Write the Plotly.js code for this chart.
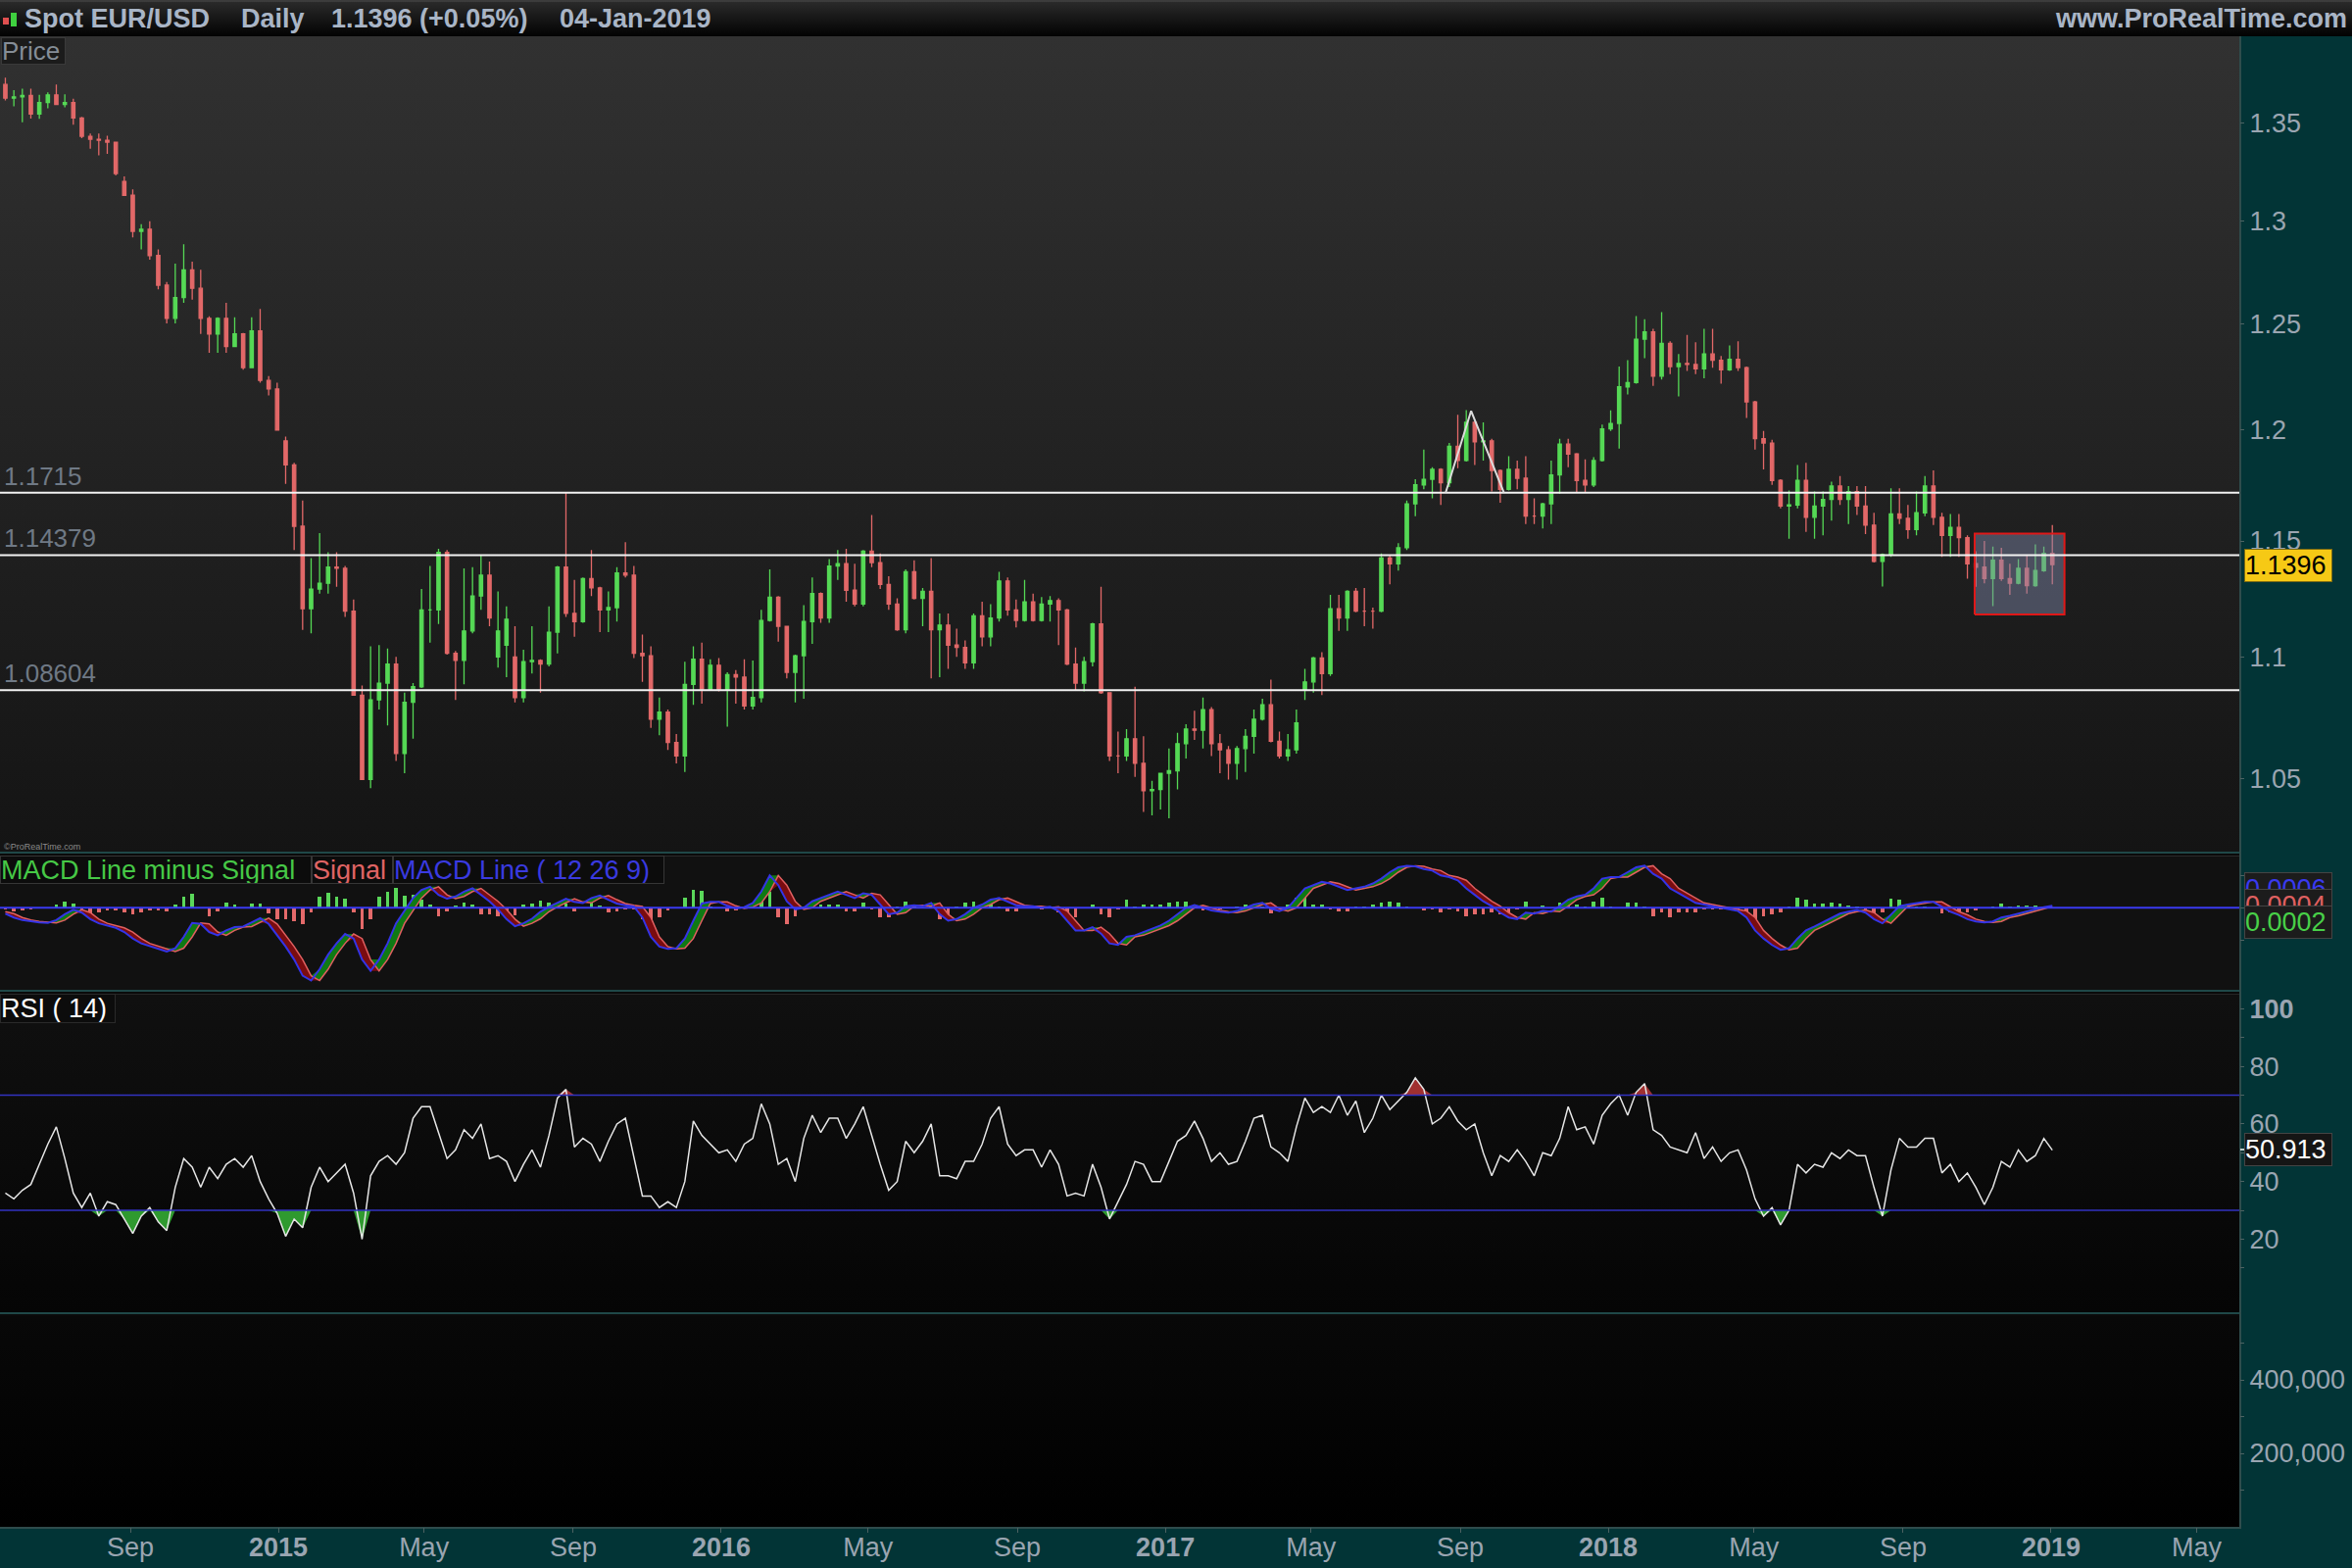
<!DOCTYPE html>
<html><head><meta charset="utf-8">
<script src="https://cdn.plot.ly/plotly-3.0.1.min.js"></script>
<style>
html,body{margin:0;padding:0;background:#000;}
#wrap{position:relative;width:2400px;height:1600px;overflow:hidden;background:#023436;}
.bg{position:absolute;}
#chart{position:absolute;left:0;top:0;width:2400px;height:1600px;}
</style></head><body>
<div id="wrap">
 <div class="bg" style="left:0;top:0;width:2400px;height:37px;background:linear-gradient(#2a2a2a,#020202);border-top:2px solid #3c3c3c;box-sizing:border-box"></div>
 <div class="bg" style="left:0;top:37px;width:2285px;height:833px;background:linear-gradient(#313131,#141414)"></div>
 <div class="bg" style="left:0;top:869px;width:2285px;height:4px;background:#0a0a0a;border-top:2px solid #1f4848;box-sizing:border-box"></div>
 <div class="bg" style="left:0;top:873px;width:2285px;height:137px;background:#111;border-top:1px solid #2a2a2a;box-sizing:border-box"></div>
 <div class="bg" style="left:0;top:1010px;width:2285px;height:4px;background:#0a0a0a;border-top:2px solid #1f4848;box-sizing:border-box"></div>
 <div class="bg" style="left:0;top:1014px;width:2285px;height:325px;background:linear-gradient(#101010,#050505);border-top:1px solid #262626;box-sizing:border-box"></div>
 <div class="bg" style="left:0;top:1339px;width:2285px;height:4px;background:#0a0a0a;border-top:2px solid #1f4848;box-sizing:border-box"></div>
 <div class="bg" style="left:0;top:1343px;width:2285px;height:215px;background:linear-gradient(#080808,#000)"></div>
 <div class="bg" style="left:2285px;top:37px;width:2px;height:1522px;background:#2f4c4c"></div>
 <div class="bg" style="left:0;top:1558px;width:2287px;height:2px;background:#2f4c4c"></div>
 <div id="chart"></div>
</div>
<script>
// ---------- DATA ----------
const weeks = [
'2014-05-21','2014-05-28','2014-06-04','2014-06-11','2014-06-18','2014-06-25','2014-07-02','2014-07-09','2014-07-16','2014-07-23',
'2014-07-30','2014-08-06','2014-08-13','2014-08-20','2014-08-27','2014-09-03','2014-09-10','2014-09-17','2014-09-24','2014-10-01',
'2014-10-08','2014-10-15','2014-10-22','2014-10-29','2014-11-05','2014-11-12','2014-11-19','2014-11-26','2014-12-03','2014-12-10',
'2014-12-17','2014-12-24','2014-12-31','2015-01-07','2015-01-14','2015-01-21','2015-01-28','2015-02-04','2015-02-11','2015-02-18',
'2015-02-25','2015-03-04','2015-03-11','2015-03-18','2015-03-25','2015-04-01','2015-04-08','2015-04-15','2015-04-22','2015-04-29',
'2015-05-06','2015-05-13','2015-05-20','2015-05-27','2015-06-03','2015-06-10','2015-06-17','2015-06-24','2015-07-01','2015-07-08',
'2015-07-15','2015-07-22','2015-07-29','2015-08-05','2015-08-12','2015-08-19','2015-08-26','2015-09-02','2015-09-09','2015-09-16',
'2015-09-23','2015-09-30','2015-10-07','2015-10-14','2015-10-21','2015-10-28','2015-11-04','2015-11-11','2015-11-18','2015-11-25',
'2015-12-02','2015-12-09','2015-12-16','2015-12-23','2015-12-30','2016-01-06','2016-01-13','2016-01-20','2016-01-27','2016-02-03',
'2016-02-10','2016-02-17','2016-02-24','2016-03-02','2016-03-09','2016-03-16','2016-03-23','2016-03-30','2016-04-06','2016-04-13',
'2016-04-20','2016-04-27','2016-05-04','2016-05-11','2016-05-18','2016-05-25','2016-06-01','2016-06-08','2016-06-15','2016-06-22',
'2016-06-29','2016-07-06','2016-07-13','2016-07-20','2016-07-27','2016-08-03','2016-08-10','2016-08-17','2016-08-24','2016-08-31',
'2016-09-07','2016-09-14','2016-09-21','2016-09-28','2016-10-05','2016-10-12','2016-10-19','2016-10-26','2016-11-02','2016-11-09',
'2016-11-16','2016-11-23','2016-11-30','2016-12-07','2016-12-14','2016-12-21','2016-12-28','2017-01-04','2017-01-11','2017-01-18',
'2017-01-25','2017-02-01','2017-02-08','2017-02-15','2017-02-22','2017-03-01','2017-03-08','2017-03-15','2017-03-22','2017-03-29',
'2017-04-05','2017-04-12','2017-04-19','2017-04-26','2017-05-03','2017-05-10','2017-05-17','2017-05-24','2017-05-31','2017-06-07',
'2017-06-14','2017-06-21','2017-06-28','2017-07-05','2017-07-12','2017-07-19','2017-07-26','2017-08-02','2017-08-09','2017-08-16',
'2017-08-23','2017-08-30','2017-09-06','2017-09-13','2017-09-20','2017-09-27','2017-10-04','2017-10-11','2017-10-18','2017-10-25',
'2017-11-01','2017-11-08','2017-11-15','2017-11-22','2017-11-29','2017-12-06','2017-12-13','2017-12-20','2017-12-27','2018-01-03',
'2018-01-10','2018-01-17','2018-01-24','2018-01-31','2018-02-07','2018-02-14','2018-02-21','2018-02-28','2018-03-07','2018-03-14',
'2018-03-21','2018-03-28','2018-04-04','2018-04-11','2018-04-18','2018-04-25','2018-05-02','2018-05-09','2018-05-16','2018-05-23',
'2018-05-30','2018-06-06','2018-06-13','2018-06-20','2018-06-27','2018-07-04','2018-07-11','2018-07-18','2018-07-25','2018-08-01',
'2018-08-08','2018-08-15','2018-08-22','2018-08-29','2018-09-05','2018-09-12','2018-09-19','2018-09-26','2018-10-03','2018-10-10',
'2018-10-17','2018-10-24','2018-10-31','2018-11-07','2018-11-14','2018-11-21','2018-11-28','2018-12-05','2018-12-12','2018-12-19',
'2018-12-26','2019-01-02'];

const open = [
1.3700,1.3628,1.3635,1.3642,1.3545,1.3605,1.3645,1.3595,1.3605,1.3525,
1.3430,1.3415,1.3410,1.3400,1.3200,1.3130,1.2950,1.2960,1.2830,1.2685,
1.2525,1.2625,1.2760,1.2670,1.2525,1.2450,1.2525,1.2390,1.2450,1.2290,
1.2465,1.2230,1.2190,1.1950,1.1840,1.1565,1.1205,1.1290,1.1315,1.1385,
1.1380,1.1195,1.0840,1.0495,1.0820,1.0890,1.0970,1.0600,1.0810,1.0875,
1.1200,1.1200,1.1450,1.1015,1.0985,1.1110,1.1260,1.1350,1.1000,1.1050,
1.1000,1.0830,1.0980,1.0985,1.0970,1.1105,1.1385,1.1185,1.1150,1.1335,
1.1295,1.1200,1.1210,1.1360,1.1350,1.1015,1.1005,1.0740,1.0770,1.0645,
1.0590,1.0885,1.0990,1.0865,1.0965,1.0865,1.0925,1.0915,1.0795,1.0830,
1.1155,1.1255,1.1130,1.0935,1.1005,1.1150,1.1270,1.1165,1.1390,1.1400,
1.1285,1.1225,1.1455,1.1405,1.1310,1.1225,1.1115,1.1365,1.1250,1.1280,
1.1115,1.1135,1.1050,1.1040,1.0975,1.1175,1.1085,1.1165,1.1325,1.1200,
1.1155,1.1235,1.1155,1.1225,1.1240,1.1200,1.0970,1.0890,1.0980,1.1140,
1.0850,1.0590,1.0590,1.0660,1.0560,1.0450,1.0455,1.0520,1.0530,1.0640,
1.0700,1.0695,1.0780,1.0640,1.0615,1.0560,1.0620,1.0670,1.0740,1.0800,
1.0650,1.0590,1.0615,1.0860,1.0895,1.0995,1.0930,1.1205,1.1165,1.1280,
1.1195,1.1195,1.1195,1.1425,1.1400,1.1470,1.1665,1.1750,1.1775,1.1820,
1.1760,1.1925,1.1860,1.2035,1.1945,1.1950,1.1815,1.1730,1.1820,1.1780,
1.1610,1.1610,1.1665,1.1795,1.1935,1.1890,1.1770,1.1750,1.1860,1.2005,
1.2030,1.2200,1.2220,1.2425,1.2460,1.2250,1.2405,1.2295,1.2310,1.2305,
1.2285,1.2355,1.2325,1.2280,1.2330,1.2290,1.2130,1.1960,1.1940,1.1770,
1.1655,1.1660,1.1770,1.1605,1.1655,1.1685,1.1745,1.1685,1.1720,1.1655,
1.1570,1.1410,1.1440,1.1620,1.1600,1.1550,1.1625,1.1745,1.1605,1.1525,
1.1560,1.1515,1.1400,1.1385,1.1335,1.1415,1.1335,1.1315,1.1380,1.1305,
1.1370,1.1445];

const high = [
1.3735,1.3670,1.3677,1.3677,1.3645,1.3658,1.3700,1.3648,1.3625,1.3530,
1.3444,1.3445,1.3433,1.3400,1.3225,1.3160,1.2985,1.3000,1.2860,1.2700,
1.2790,1.2885,1.2800,1.2760,1.2535,1.2530,1.2600,1.2530,1.2455,1.2530,
1.2570,1.2250,1.2220,1.1970,1.1850,1.1680,1.1425,1.1535,1.1450,1.1450,
1.1390,1.1245,1.0880,1.1045,1.1050,1.1035,1.1000,1.0850,1.0890,1.1290,
1.1390,1.1465,1.1460,1.1025,1.1380,1.1385,1.1435,1.1410,1.1280,1.1215,
1.1130,1.1030,1.1130,1.0990,1.1215,1.1390,1.1714,1.1330,1.1340,1.1460,
1.1300,1.1280,1.1385,1.1495,1.1390,1.1095,1.1045,1.0830,1.0780,1.0680,
1.0980,1.1045,1.1060,1.0990,1.0995,1.0935,1.0945,1.0990,1.0985,1.1200,
1.1375,1.1260,1.1130,1.1010,1.1220,1.1340,1.1275,1.1420,1.1460,1.1465,
1.1400,1.1460,1.1615,1.1445,1.1345,1.1250,1.1375,1.1415,1.1295,1.1425,
1.1185,1.1185,1.1120,1.1070,1.1185,1.1235,1.1225,1.1365,1.1340,1.1245,
1.1330,1.1270,1.1255,1.1260,1.1250,1.1205,1.1040,1.1000,1.1145,1.1300,
1.0850,1.0690,1.0700,1.0875,1.0670,1.0490,1.0490,1.0620,1.0685,1.0720,
1.0775,1.0830,1.0790,1.0680,1.0630,1.0630,1.0700,1.0780,1.0825,1.0905,
1.0690,1.0680,1.0780,1.0950,1.1000,1.1020,1.1265,1.1265,1.1285,1.1295,
1.1295,1.1210,1.1445,1.1440,1.1490,1.1680,1.1775,1.1910,1.1830,1.1825,
1.1940,1.2070,1.2092,1.2040,1.2035,1.1960,1.1820,1.1880,1.1860,1.1880,
1.1690,1.1670,1.1860,1.1960,1.1960,1.1895,1.1865,1.1875,1.2025,1.2090,
1.2295,1.2325,1.2536,1.2520,1.2475,1.2555,1.2415,1.2355,1.2445,1.2410,
1.2475,1.2475,1.2345,1.2395,1.2415,1.2295,1.2135,1.1995,1.1955,1.1775,
1.1725,1.1840,1.1850,1.1720,1.1720,1.1765,1.1790,1.1745,1.1745,1.1745,
1.1625,1.1445,1.1735,1.1735,1.1660,1.1720,1.1790,1.1815,1.1625,1.1620,
1.1620,1.1525,1.1455,1.1500,1.1475,1.1470,1.1400,1.1420,1.1440,1.1485,
1.1475,1.1570];

const low = [
1.3616,1.3586,1.3503,1.3522,1.3520,1.3575,1.3593,1.3580,1.3490,1.3420,
1.3366,1.3333,1.3340,1.3230,1.3130,1.2920,1.2860,1.2810,1.2665,1.2500,
1.2500,1.2600,1.2615,1.2450,1.2360,1.2360,1.2360,1.2390,1.2280,1.2290,
1.2220,1.2160,1.2000,1.1755,1.1460,1.1115,1.1100,1.1270,1.1270,1.1300,
1.1170,1.0840,1.0495,1.0460,1.0780,1.0715,1.0570,1.0520,1.0660,1.0870,
1.1060,1.1140,1.1010,1.0820,1.0885,1.1100,1.1200,1.1130,1.0955,1.0915,
1.0810,1.0810,1.0930,1.0850,1.0960,1.1015,1.1170,1.1085,1.1145,1.1260,
1.1105,1.1105,1.1150,1.1340,1.0995,1.0895,1.0705,1.0675,1.0615,1.0560,
1.0525,1.0800,1.0805,1.0860,1.0855,1.0710,1.0805,1.0780,1.0780,1.0810,
1.1150,1.1065,1.0910,1.0810,1.0825,1.1055,1.1145,1.1145,1.1330,1.1235,
1.1215,1.1215,1.1385,1.1290,1.1200,1.1110,1.1100,1.1245,1.1130,1.0910,
1.0915,1.0950,1.1000,1.0950,1.0950,1.1045,1.1045,1.1150,1.1175,1.1125,
1.1150,1.1150,1.1150,1.1150,1.1050,1.0965,1.0860,1.0855,1.0960,1.0845,
1.0570,1.0520,1.0570,1.0505,1.0365,1.0352,1.0375,1.0340,1.0455,1.0580,
1.0655,1.0620,1.0590,1.0520,1.0495,1.0495,1.0525,1.0600,1.0735,1.0645,
1.0580,1.0570,1.0600,1.0820,1.0850,1.0840,1.0920,1.1110,1.1110,1.1190,
1.1130,1.1120,1.1190,1.1310,1.1370,1.1460,1.1610,1.1730,1.1690,1.1660,
1.1740,1.1825,1.1855,1.1840,1.1860,1.1720,1.1670,1.1725,1.1730,1.1575,
1.1575,1.1555,1.1575,1.1710,1.1830,1.1715,1.1715,1.1740,1.1855,1.1995,
1.1915,1.2165,1.2215,1.2335,1.2205,1.2235,1.2260,1.2155,1.2275,1.2260,
1.2240,1.2290,1.2215,1.2275,1.2275,1.2055,1.1910,1.1820,1.1750,1.1645,
1.1510,1.1645,1.1540,1.1510,1.1525,1.1590,1.1660,1.1575,1.1615,1.1530,
1.1405,1.1301,1.1430,1.1575,1.1510,1.1525,1.1610,1.1570,1.1430,1.1430,
1.1430,1.1335,1.1300,1.1315,1.1216,1.1325,1.1265,1.1310,1.1270,1.1300,
1.1365,1.1310];

const close = [
1.3628,1.3635,1.3642,1.3545,1.3605,1.3645,1.3595,1.3605,1.3525,1.3430,
1.3415,1.3410,1.3400,1.3240,1.3130,1.2950,1.2960,1.2830,1.2685,1.2525,
1.2625,1.2760,1.2670,1.2525,1.2450,1.2525,1.2390,1.2450,1.2290,1.2465,
1.2230,1.2190,1.2000,1.1840,1.1565,1.1205,1.1290,1.1315,1.1385,1.1380,
1.1195,1.0840,1.0495,1.0820,1.0890,1.0970,1.0600,1.0810,1.0875,1.1200,
1.1200,1.1450,1.1015,1.0985,1.1110,1.1260,1.1350,1.1165,1.1110,1.1160,
1.0830,1.0980,1.0985,1.0970,1.1105,1.1385,1.1185,1.1150,1.1335,1.1295,
1.1200,1.1210,1.1360,1.1350,1.1015,1.1005,1.0740,1.0770,1.0645,1.0590,
1.0885,1.0990,1.0865,1.0965,1.0865,1.0925,1.0915,1.0795,1.0830,1.1155,
1.1255,1.1130,1.0935,1.1005,1.1150,1.1270,1.1165,1.1390,1.1400,1.1285,
1.1225,1.1455,1.1405,1.1310,1.1225,1.1115,1.1365,1.1250,1.1280,1.1115,
1.1135,1.1050,1.1040,1.0975,1.1175,1.1085,1.1165,1.1325,1.1200,1.1155,
1.1235,1.1155,1.1225,1.1240,1.1200,1.0970,1.0890,1.0980,1.1140,1.0850,
1.0590,1.0590,1.0660,1.0560,1.0450,1.0455,1.0520,1.0530,1.0640,1.0700,
1.0695,1.0780,1.0640,1.0615,1.0560,1.0620,1.0670,1.0740,1.0800,1.0650,
1.0590,1.0615,1.0725,1.0895,1.0995,1.0930,1.1205,1.1165,1.1280,1.1195,
1.1195,1.1195,1.1425,1.1400,1.1470,1.1665,1.1750,1.1775,1.1820,1.1760,
1.1925,1.1860,1.2035,1.1945,1.1950,1.1815,1.1730,1.1820,1.1780,1.1610,
1.1610,1.1665,1.1795,1.1935,1.1890,1.1770,1.1750,1.1860,1.2005,1.2030,
1.2200,1.2220,1.2425,1.2460,1.2250,1.2405,1.2295,1.2310,1.2305,1.2285,
1.2355,1.2325,1.2280,1.2330,1.2290,1.2130,1.1960,1.1940,1.1770,1.1655,
1.1660,1.1770,1.1605,1.1655,1.1685,1.1745,1.1685,1.1720,1.1655,1.1570,
1.1410,1.1440,1.1620,1.1600,1.1550,1.1625,1.1745,1.1605,1.1525,1.1560,
1.1515,1.1400,1.1385,1.1335,1.1415,1.1335,1.1315,1.1380,1.1305,1.1370,
1.1445,1.1396];

const macdLine = [
-0.0018,-0.003,-0.0038,-0.0042,-0.0045,-0.0047,-0.0038,-0.002,-0.0006,-0.0015,
-0.0035,-0.0048,-0.0055,-0.0062,-0.0075,-0.0095,-0.011,-0.0118,-0.0125,-0.0135,
-0.0125,-0.009,-0.0047,-0.005,-0.0075,-0.0085,-0.007,-0.006,-0.0058,-0.0045,
-0.0032,-0.005,-0.0085,-0.012,-0.016,-0.021,-0.0225,-0.019,-0.0145,-0.011,
-0.0081,-0.0095,-0.016,-0.0195,-0.016,-0.011,-0.0048,-0.001,0.003,0.0055,
0.0065,0.004,0.0028,0.0035,0.005,0.006,0.004,0.002,-0.0005,-0.0035,
-0.0057,-0.0048,-0.0034,-0.0012,0.0003,0.0015,0.0028,0.0018,0.0015,0.003,
0.0038,0.0025,0.0013,0.0008,0.0004,-0.003,-0.009,-0.012,-0.0127,-0.0125,
-0.0095,-0.004,0.0013,0.0018,0.0018,0.0006,-0.0002,0.0002,0.0015,0.005,
0.01,0.007,0.002,-0.0005,0.0,0.002,0.003,0.004,0.005,0.004,
0.003,0.0045,0.004,0.001,-0.002,-0.0015,0.0005,0.0008,0.0005,0.0015,
-0.002,-0.004,-0.0035,-0.002,0.0,0.001,0.0025,0.003,0.002,0.0008,
0.0005,0.0005,0.0,0.0003,-0.001,-0.004,-0.007,-0.007,-0.006,-0.008,
-0.011,-0.0115,-0.009,-0.0085,-0.0075,-0.0065,-0.0055,-0.004,-0.002,0.0,
0.0008,0.0,-0.0008,-0.0012,-0.0015,-0.001,0.0,0.001,0.0015,-0.0003,
-0.001,0.0,0.003,0.006,0.007,0.008,0.0075,0.0065,0.0055,0.006,
0.0065,0.0075,0.009,0.011,0.0125,0.013,0.0128,0.012,0.0115,0.01,
0.0095,0.0085,0.006,0.004,0.002,0.0005,-0.0015,-0.003,-0.0035,-0.0015,
-0.0018,-0.001,-0.0012,0.0005,0.0025,0.0035,0.004,0.006,0.009,0.0095,
0.0095,0.011,0.0125,0.013,0.0105,0.009,0.006,0.0045,0.003,0.0015,
0.001,0.0005,0.0,-0.0005,-0.001,-0.003,-0.007,-0.0095,-0.0115,-0.013,
-0.0125,-0.0095,-0.007,-0.0058,-0.0045,-0.003,-0.0018,-0.0012,-0.0007,-0.0015,
-0.0035,-0.0048,-0.002,0.0005,0.001,0.0013,0.0018,0.0018,0.0002,-0.0012,
-0.0022,-0.0035,-0.0042,-0.0045,-0.0042,-0.003,-0.0025,-0.0018,-0.001,-0.0003,
0.0002,0.0006];

const signalLine = [
-0.0012,-0.0018,-0.003,-0.0038,-0.0042,-0.0045,-0.0047,-0.0038,-0.002,-0.0006,
-0.0015,-0.0035,-0.0048,-0.0055,-0.0062,-0.0075,-0.0095,-0.011,-0.0118,-0.0125,
-0.0135,-0.0125,-0.009,-0.0047,-0.005,-0.0075,-0.0085,-0.007,-0.006,-0.0058,
-0.0045,-0.0032,-0.005,-0.0085,-0.012,-0.016,-0.021,-0.0225,-0.019,-0.0145,
-0.011,-0.0081,-0.0095,-0.016,-0.0195,-0.016,-0.011,-0.0048,-0.001,0.003,
0.0055,0.0065,0.004,0.0028,0.0035,0.005,0.006,0.004,0.002,-0.0005,
-0.0035,-0.0057,-0.0048,-0.0034,-0.0012,0.0003,0.0015,0.0028,0.0018,0.0015,
0.003,0.0038,0.0025,0.0013,0.0008,0.0004,-0.003,-0.009,-0.012,-0.0127,
-0.0125,-0.0095,-0.004,0.0013,0.0018,0.0018,0.0006,-0.0002,0.0002,0.0015,
0.005,0.01,0.007,0.002,-0.0005,0.0,0.002,0.003,0.004,0.005,
0.004,0.003,0.0045,0.004,0.001,-0.002,-0.0015,0.0005,0.0008,0.0005,
0.0015,-0.002,-0.004,-0.0035,-0.002,0.0,0.001,0.0025,0.003,0.002,
0.0008,0.0005,0.0005,0.0,0.0003,-0.001,-0.004,-0.007,-0.007,-0.006,
-0.008,-0.011,-0.0115,-0.009,-0.0085,-0.0075,-0.0065,-0.0055,-0.004,-0.002,
0.0,0.0008,0.0,-0.0008,-0.0012,-0.0015,-0.001,0.0,0.001,0.0015,
-0.0003,-0.001,0.0,0.003,0.006,0.007,0.008,0.0075,0.0065,0.0055,
0.006,0.0065,0.0075,0.009,0.011,0.0125,0.013,0.0128,0.012,0.0115,
0.01,0.0095,0.0085,0.006,0.004,0.002,0.0005,-0.0015,-0.003,-0.0035,
-0.0015,-0.0018,-0.001,-0.0012,0.0005,0.0025,0.0035,0.004,0.006,0.009,
0.0095,0.0095,0.011,0.0125,0.013,0.0105,0.009,0.006,0.0045,0.003,
0.0015,0.001,0.0005,0.0,-0.0005,-0.001,-0.003,-0.007,-0.0095,-0.0115,
-0.013,-0.0125,-0.0095,-0.007,-0.0058,-0.0045,-0.003,-0.0018,-0.0012,-0.0007,
-0.0015,-0.0035,-0.0048,-0.002,0.0005,0.001,0.0013,0.0018,0.0018,0.0002,
-0.0012,-0.0022,-0.0035,-0.0042,-0.0045,-0.0042,-0.003,-0.0025,-0.0018,-0.001,
-0.0003,0.0004];

const rsi = [
36,34,37,39,46,53,59,48,36,31,
36,28,33,32,27,22,28,31,26,23,
38,48,45,38,45,41,46,48,45,49,
40,34,29,21,27,24,38,45,40,43,
46,36,20,42,47,49,46,50,62,66,
66,57,48,51,58,55,60,48,49,47,
40,46,51,45,56,69,72,52,55,53,
47,54,60,62,48,35,35,31,33,31,
40,61,56,53,50,51,47,53,55,67,
60,46,48,40,55,63,57,62,62,55,
60,66,56,46,37,40,54,50,54,60,
42,42,41,47,47,53,62,66,53,49,
51,51,45,51,46,35,36,35,46,38,
27,33,39,47,46,40,40,47,54,56,
61,55,47,50,46,47,54,62,63,52,
50,47,59,69,64,66,64,70,63,68,
57,62,70,65,68,71,76,72,60,62,
66,61,58,60,50,42,49,47,51,47,
42,50,49,55,66,58,59,53,63,67,
70,63,71,74,58,56,52,51,50,57,
48,52,47,50,51,44,34,28,31,25,
30,46,43,46,45,50,48,51,49,49,
38,28,44,55,52,52,55,55,43,46,
40,43,38,32,38,47,45,51,47,49,
55,50.913];

const levels = [1.1715, 1.14379, 1.08604];
const levelLabels = ['1.1715', '1.14379', '1.08604'];
const triangleDates = ['2017-08-20', '2017-09-10', '2017-10-07'];
const trianglePrices = [1.1715, 1.2088, 1.1715];
const boxDates = ['2018-10-30', '2019-01-12'];
const boxPrices = [1.1180, 1.1533];

const priceTicks = [1.05, 1.1, 1.15, 1.2, 1.25, 1.3, 1.35];
const priceTickText = ['1.05', '1.1', '1.15', '1.2', '1.25', '1.3', '1.35'];
const xTickDates = ['2014-09-01','2015-01-01','2015-05-01','2015-09-01','2016-01-01','2016-05-01','2016-09-01','2017-01-01','2017-05-01','2017-09-01','2018-01-01','2018-05-01','2018-09-01','2019-01-01','2019-05-01'];
const xTickText = ['Sep','<b>2015</b>','May','Sep','<b>2016</b>','May','Sep','<b>2017</b>','May','Sep','<b>2018</b>','May','Sep','<b>2019</b>','May'];
const rsiTicks = [10,20,30,40,50,60,70,80,90,100];
const rsiTickText = ['','20','','40','','60','','80','','<b>100</b>'];
const volTicks = [100000,200000,300000,400000,500000];
const volTickText = ['','200,000','','400,000',''];

// ---------- BUILD ----------
const FONT = 'Liberation Sans, Arial, sans-serif';
const AX = '#9aa5b1';
const xRange = ['2014-05-16 14:00', '2019-06-05 02:00'];
const PR = 2285/2400;
const px = x => x/2400, py = y => 1 - y/1600;

const hist = macdLine.map((m,i) => m - signalLine[i]);
const histColors = hist.map(h => h >= 0 ? '#5ad85a' : '#e46a6a');
const upper = macdLine.map((m,i) => Math.max(m, signalLine[i]));
const lower = macdLine.map((m,i) => Math.min(m, signalLine[i]));
const rsi30 = rsi.map(() => 30), rsi70 = rsi.map(() => 70);
const rsiLow = rsi.map(v => Math.min(v, 30));
const rsiHigh = rsi.map(v => Math.max(v, 70));

const traces = [];
traces.push({type:'scatter', mode:'lines', xaxis:'x', yaxis:'y',
  x:[boxDates[0], boxDates[1], boxDates[1], boxDates[0], boxDates[0]],
  y:[boxPrices[0], boxPrices[0], boxPrices[1], boxPrices[1], boxPrices[0]],
  fill:'toself', fillcolor:'rgba(128,138,172,0.46)', line:{color:'#e01818', width:2}, hoverinfo:'skip'});
levels.forEach(l => traces.push({type:'scatter', mode:'lines', xaxis:'x', yaxis:'y',
  x:xRange, y:[l,l], line:{color:'#f2f2f2', width:2}, hoverinfo:'skip'}));
traces.push({type:'candlestick', xaxis:'x', yaxis:'y', x:weeks, open:open, high:high, low:low, close:close,
  increasing:{line:{color:'#55d955', width:1.3}, fillcolor:'#55d955'},
  decreasing:{line:{color:'#e26868', width:1.3}, fillcolor:'#e26868'},
  whiskerwidth:0, hoverinfo:'skip'});
traces.push({type:'scatter', mode:'lines', xaxis:'x', yaxis:'y', x:triangleDates, y:trianglePrices,
  line:{color:'#dcdcdc', width:2}, hoverinfo:'skip'});

// MACD
traces.push({type:'bar', xaxis:'x', yaxis:'y2', x:weeks, y:hist, marker:{color:histColors, line:{width:0}},
  width:3*86400000, hoverinfo:'skip'});
traces.push({type:'scatter', mode:'lines', xaxis:'x', yaxis:'y2', x:weeks, y:signalLine, line:{width:0, color:'rgba(0,0,0,0)'}, hoverinfo:'skip'});
traces.push({type:'scatter', mode:'lines', xaxis:'x', yaxis:'y2', x:weeks, y:upper, fill:'tonexty', fillcolor:'#0f7a14', line:{width:0, color:'rgba(0,0,0,0)'}, hoverinfo:'skip'});
traces.push({type:'scatter', mode:'lines', xaxis:'x', yaxis:'y2', x:weeks, y:signalLine, line:{width:0, color:'rgba(0,0,0,0)'}, hoverinfo:'skip'});
traces.push({type:'scatter', mode:'lines', xaxis:'x', yaxis:'y2', x:weeks, y:lower, fill:'tonexty', fillcolor:'#7a0c10', line:{width:0, color:'rgba(0,0,0,0)'}, hoverinfo:'skip'});
traces.push({type:'scatter', mode:'lines', xaxis:'x', yaxis:'y2', x:weeks, y:signalLine, line:{color:'#e06060', width:1.5}, hoverinfo:'skip'});
traces.push({type:'scatter', mode:'lines', xaxis:'x', yaxis:'y2', x:weeks, y:macdLine, line:{color:'#3434e6', width:2}, hoverinfo:'skip'});

// RSI
traces.push({type:'scatter', mode:'lines', xaxis:'x', yaxis:'y3', x:weeks, y:rsi30, line:{width:0, color:'rgba(0,0,0,0)'}, hoverinfo:'skip'});
traces.push({type:'scatter', mode:'lines', xaxis:'x', yaxis:'y3', x:weeks, y:rsiLow, fill:'tonexty', fillcolor:'#2f9a2f', line:{width:0, color:'rgba(0,0,0,0)'}, hoverinfo:'skip'});
traces.push({type:'scatter', mode:'lines', xaxis:'x', yaxis:'y3', x:weeks, y:rsi70, line:{width:0, color:'rgba(0,0,0,0)'}, hoverinfo:'skip'});
traces.push({type:'scatter', mode:'lines', xaxis:'x', yaxis:'y3', x:weeks, y:rsiHigh, fill:'tonexty', fillcolor:'#a03030', line:{width:0, color:'rgba(0,0,0,0)'}, hoverinfo:'skip'});
traces.push({type:'scatter', mode:'lines', xaxis:'x', yaxis:'y3', x:weeks, y:rsi, line:{color:'#e6e6e6', width:1.5}, hoverinfo:'skip'});

// empty volume panel (no volume data for spot FX) - keeps the axis drawn
traces.push({type:'scatter', mode:'lines', xaxis:'x', yaxis:'y4', x:[], y:[], hoverinfo:'skip'});

const tickFont = {family:FONT, size:27, color:AX};
const yCommon = {side:'right', anchor:'x', showgrid:false, zeroline:false, showline:false,
  ticks:'outside', ticklen:4, tickcolor:'#4d6262', tickfont:tickFont, fixedrange:true};

const annotations = [];
function ann(text, x, y, o) {
  annotations.push(Object.assign({text, x:px(x), y:py(y), xref:'paper', yref:'paper', showarrow:false,
    xanchor:'left', yanchor:'middle', font:{family:FONT, size:27, color:AX}}, o || {}));
}
const HDR = {family:FONT, size:27, color:'#a9b5c6'};
ann('<b>Spot EUR/USD</b>', 23, 19, {font:HDR});
ann('<b>Daily</b>', 244, 19, {font:HDR});
ann('<b>1.1396 (+0.05%)</b>', 336, 19, {font:HDR});
ann('<b>04-Jan-2019</b>', 569, 19, {font:HDR});
ann('<b>www.ProRealTime.com</b>', 2397, 19, {font:HDR, xanchor:'right'});
ann('Price', 1, 52, {font:{family:FONT, size:26, color:'#858d97'}, bgcolor:'#1b1b1b', bordercolor:'#3a3a3a', borderwidth:1, borderpad:0, width:64, height:26, align:'left'});
levels.forEach((l,i) => annotations.push({text:levelLabels[i], xref:'paper', yref:'y', x:px(2), y:Math.log10(l),
  xanchor:'left', yanchor:'bottom', showarrow:false, font:{family:FONT, size:26, color:'#6f7985'}}));
ann('©ProRealTime.com', 2, 864, {font:{family:FONT, size:9, color:'#8a8a8a'}});
const lgBox = {bgcolor:'#0c0c0c', bordercolor:'#363636', borderwidth:1, borderpad:0, height:27, align:'left'};
ann('MACD Line minus Signal', 0, 887.5, Object.assign({}, lgBox, {width:316, font:{family:FONT, size:27, color:'#46c846'}}));
ann('Signal', 318, 887.5, Object.assign({}, lgBox, {width:81, font:{family:FONT, size:27, color:'#e06464'}}));
ann('MACD Line ( 12 26 9)', 401, 887.5, Object.assign({}, lgBox, {width:275, font:{family:FONT, size:27, color:'#3a3ae0'}}));
ann('RSI ( 14)', 0, 1029, {bgcolor:'#0c0c0c', bordercolor:'#2a2a2a', borderwidth:1, borderpad:0, width:116, height:28, align:'left', font:{family:FONT, size:27, color:'#ffffff'}});
const vb = {bgcolor:'#1c1c1c', bordercolor:'#444', borderwidth:1, borderpad:0, width:88, height:32, align:'left'};
ann('1.1396', 2290, 576.7, Object.assign({}, vb, {bgcolor:'#f6c915', bordercolor:'#7d6a12', font:{family:FONT, size:27, color:'#000'}}));
ann('0.0006', 2290, 907, Object.assign({}, vb, {font:{family:FONT, size:27, color:'#3a3af0'}}));
ann('0.0004', 2290, 924, Object.assign({}, vb, {font:{family:FONT, size:27, color:'#e06060'}}));
ann('0.0002', 2290, 941, Object.assign({}, vb, {font:{family:FONT, size:27, color:'#48d048'}}));
ann('50.913', 2290, 1173.3, Object.assign({}, vb, {bgcolor:'#151515', font:{family:FONT, size:27, color:'#ffffff'}}));

const shapes = [
  {type:'line', xref:'paper', yref:'y2', x0:0, x1:PR, y0:0, y1:0, line:{color:'#3a3af0', width:2}, layer:'above'},
  {type:'line', xref:'paper', yref:'y3', x0:0, x1:PR, y0:70, y1:70, line:{color:'#3232c0', width:1.5}},
  {type:'line', xref:'paper', yref:'y3', x0:0, x1:PR, y0:30, y1:30, line:{color:'#3232c0', width:1.5}},
  {type:'rect', xref:'paper', yref:'paper', x0:px(3), x1:px(9), y0:py(25), y1:py(18), fillcolor:'#e05050', line:{width:0}},
  {type:'rect', xref:'paper', yref:'paper', x0:px(11), x1:px(17), y0:py(27), y1:py(13), fillcolor:'#3fd03f', line:{width:0}},
  {type:'line', xref:'paper', yref:'paper', x0:px(2286), x1:px(2291), y0:py(1173), y1:py(1173), line:{color:'#fff', width:1.5}}
];

const layout = {
  width:2400, height:1600, margin:{l:0, r:0, t:0, b:0},
  paper_bgcolor:'rgba(0,0,0,0)', plot_bgcolor:'rgba(0,0,0,0)',
  showlegend:false, hovermode:false, bargap:0, boxgap:0.45,
  xaxis:{type:'date', domain:[0, PR], range:xRange, anchor:'y4', showgrid:false, zeroline:false, showline:false,
    tickvals:xTickDates, ticktext:xTickText, ticks:'outside', ticklen:5, tickcolor:'#4d6262', tickfont:tickFont,
    ticklabelstandoff:-8, rangeslider:{visible:false}, fixedrange:true},
  yaxis:Object.assign({}, yCommon, {type:'log', domain:[0.45625, 0.976875], range:[0.008806, 0.14474],
    tickvals:priceTicks, ticktext:priceTickText}),
  yaxis2:Object.assign({}, yCommon, {domain:[0.36875, 0.454375], range:[-0.02536, 0.01615],
    tickvals:[-0.01, 0, 0.01], ticktext:['','','']}),
  yaxis3:Object.assign({}, yCommon, {domain:[0.16375, 0.36625], range:[-5, 105.2],
    tickvals:rsiTicks, ticktext:rsiTickText}),
  yaxis4:Object.assign({}, yCommon, {domain:[0.02625, 0.16125], range:[0, 576000],
    tickvals:volTicks, ticktext:volTickText}),
  annotations, shapes
};

Plotly.newPlot('chart', traces, layout, {staticPlot:true, displayModeBar:false});
</script>
</body></html>
